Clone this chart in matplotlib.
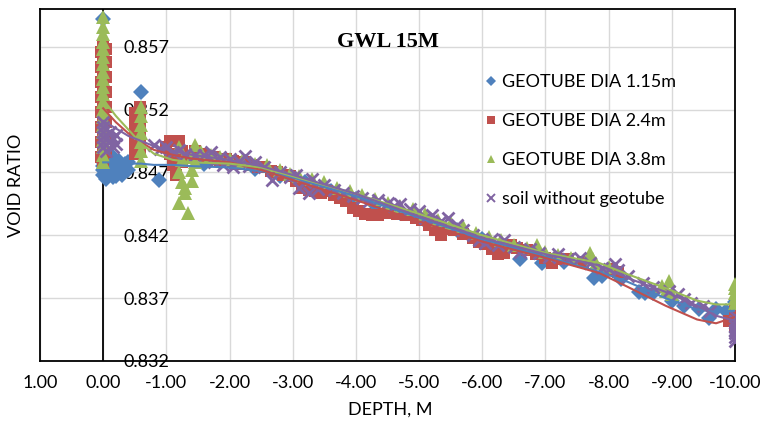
import matplotlib
matplotlib.use("Agg")
import matplotlib.pyplot as plt
from matplotlib.lines import Line2D

plt.rcParams['font.family'] = ['Lato', 'DejaVu Sans']

# ---------------- data ----------------
blue_x = [0.0, 0.0, 0.0, 0.0, 0.0, -0.05, -0.05, -0.1, -0.1, -0.1, -0.15, -0.15, -0.2, -0.2, -0.2, -0.25, -0.25,
          -0.3, -0.3, -0.35, -0.35, -0.4, -0.4, -0.05, -0.15,
          0.0, -0.6, -0.88,
          -1.2, -1.6, -2.0, -2.4, -2.8, -3.2, -3.6, -4.0, -4.3, -4.7, -5.1, -5.3, -5.6, -6.0, -6.3, -6.6,
          -6.95, -7.3, -7.77, -7.9, -8.2, -8.48, -8.58, -8.7, -9.0, -9.2, -9.43, -9.59, -9.7, -9.85,
          -10.0, -10.0, -10.0]
blue_y = [0.8478, 0.8472, 0.8468, 0.8483, 0.8475, 0.8475, 0.8469, 0.8470, 0.8480, 0.8474, 0.8466, 0.8478, 0.8476, 0.8471, 0.8467, 0.8479, 0.8473,
          0.8474, 0.8468, 0.8477, 0.8471, 0.8472, 0.8478, 0.8465, 0.8482,
          0.8592, 0.8534, 0.8464,
          0.8478, 0.8477, 0.8478, 0.8473, 0.8467, 0.8462, 0.8455, 0.8449, 0.8444, 0.8438, 0.8431, 0.8428, 0.8424, 0.8417, 0.8412, 0.8401,
          0.8398, 0.8399, 0.8386, 0.8388, 0.8385, 0.8375, 0.8374, 0.8374, 0.8368, 0.8364, 0.8361, 0.8354, 0.8361, 0.8360,
          0.8362, 0.8367, 0.8356]

red_x = [0.0, 0.04, -0.04, 0.0, 0.04, -0.04, 0.0, 0.04, -0.04, 0.0, 0.04, -0.04, 0.0, 0.04, -0.04, 0.0, 0.04, -0.04,
         0.0, 0.04, -0.04, 0.0, 0.04, -0.04, 0.0,
         -0.5, -0.58, -0.5, -0.58, -0.5, -0.58, -0.5, -0.58, -0.5, -0.58,
         -1.05, -1.2, -1.05, -1.25, -1.1, -1.25, -1.15, -1.0, -1.3,
         -1.45, -1.55, -1.65, -1.75, -1.85, -1.95, -2.05, -2.15, -2.25, -2.35, -2.45, -2.55, -2.65, -2.75, -2.85,
         -2.95, -3.05, -3.15, -3.25, -3.35, -3.45, -3.55, -3.65, -3.75, -3.85, -3.95, -4.05, -4.15, -4.25, -4.35,
         -4.5, -4.65, -4.8, -4.95, -5.05, -5.15, -5.25, -5.35, -5.45, -5.55, -5.7, -5.85, -5.95, -6.05, -6.15,
         -6.25, -6.35, -6.45, -6.55, -6.7, -6.85, -7.0, -7.1, -7.2, -7.35, -7.6, -8.05, -8.15,
         -9.9, -10.0, -10.0, -10.0, -10.0]
red_y = [0.8478, 0.8482, 0.8486, 0.8490, 0.8494, 0.8498, 0.8502, 0.8506, 0.8510, 0.8514, 0.8518, 0.8522, 0.8526, 0.8530, 0.8534,
         0.8538, 0.8542, 0.8546, 0.8550, 0.8554, 0.8558, 0.8562, 0.8566, 0.8568, 0.8570,
         0.8485, 0.8489, 0.8493, 0.8497, 0.8501, 0.8505, 0.8509, 0.8513, 0.8517, 0.8522,
         0.8495, 0.8495, 0.8485, 0.8487, 0.8476, 0.8478, 0.8468, 0.8490, 0.8482,
         0.8487, 0.8485, 0.8483, 0.8482, 0.8480, 0.8481, 0.8479, 0.8477, 0.8478, 0.8476, 0.8474, 0.8474, 0.8471, 0.8470, 0.8468,
         0.8467, 0.8463, 0.8458, 0.8456, 0.8455, 0.8454, 0.8455, 0.8452, 0.8450, 0.8447, 0.8442, 0.8439, 0.8437, 0.8436, 0.8436,
         0.8438, 0.8437, 0.8436, 0.8434, 0.8432, 0.8428, 0.8424, 0.8420, 0.8425, 0.8424, 0.8421, 0.8418, 0.8415, 0.8413, 0.8409,
         0.8405, 0.8406, 0.8412, 0.8410, 0.8408, 0.8405, 0.8402, 0.8398, 0.8401, 0.8401, 0.8399, 0.8393, 0.8391,
         0.8352, 0.8356, 0.8360, 0.8348, 0.8352]

green_x = [0.0, 0.0, 0.0, 0.0, 0.0, 0.0, 0.0, 0.0, 0.0, 0.0, 0.0, 0.0, 0.0, 0.0, 0.0, 0.0, 0.0, 0.0, 0.0, 0.0,
           -0.6, -0.6, -0.6, -0.6, -0.6, -0.6, -0.6,
           -1.2, -1.45, -1.25, -1.4, -1.2, -1.4, -1.25, -1.4, -1.3, -1.2, -1.35, -1.3, -1.45,
           -1.55, -1.7, -1.85, -2.0, -2.2, -2.4, -2.6, -2.8, -2.95, -3.1, -3.3, -3.5, -3.7, -3.9, -4.1, -4.3,
           -4.5, -4.7, -4.9, -5.1, -5.3, -5.5, -5.7, -5.9, -6.1, -6.3, -6.5, -6.7, -6.87, -7.0, -7.2, -7.4,
           -7.7, -7.75, -7.8, -8.0, -8.85, -8.9, -8.95, -9.0,
           -10.0, -10.0, -10.0, -10.0, -10.0]
green_y = [0.8478, 0.8484, 0.8490, 0.8496, 0.8502, 0.8508, 0.8514, 0.8520, 0.8526, 0.8532, 0.8538, 0.8544, 0.8550, 0.8556,
           0.8562, 0.8568, 0.8574, 0.8580, 0.8586, 0.8594,
           0.8522, 0.8515, 0.8508, 0.8501, 0.8494, 0.8487, 0.8479,
           0.8490, 0.8492, 0.8480, 0.8482, 0.8470, 0.8472, 0.8462, 0.8463, 0.8454, 0.8446, 0.8438, 0.8458, 0.8478,
           0.8486, 0.8484, 0.8482, 0.8481, 0.8479, 0.8477, 0.8476, 0.8472, 0.8469, 0.8467, 0.8465, 0.8462, 0.8458, 0.8455, 0.8452, 0.8449,
           0.8446, 0.8443, 0.8441, 0.8437, 0.8432, 0.8430, 0.8427, 0.8422, 0.8419, 0.8416, 0.8412, 0.8410, 0.8412, 0.8407, 0.8404, 0.8402,
           0.8406, 0.8401, 0.8398, 0.8395, 0.8380, 0.8376, 0.8384, 0.8373,
           0.8366, 0.8370, 0.8374, 0.8378, 0.8381]

purple_x = [0.0, 0.0, 0.0, 0.0, 0.0, 0.0, -0.05, -0.1, -0.1, -0.15, -0.15, -0.2, -0.2,
            -0.8, -0.9, -1.0, -1.1, -1.2, -1.3, -1.45, -1.6, -1.7, -1.75, -1.85, -1.9, -2.0, -2.05, -2.15, -2.25,
            -2.3, -2.4, -2.55, -2.67, -2.8, -2.95, -3.05, -3.1, -3.2, -3.25, -3.3, -3.4, -3.5, -3.65, -3.8, -3.95,
            -4.1, -4.2, -4.35, -4.5, -4.6, -4.7, -4.85, -5.0, -5.1, -5.2, -5.35, -5.45, -5.6, -5.7, -5.85, -5.95,
            -6.05, -6.15, -6.25, -6.35, -6.5, -6.6, -6.75, -6.9, -7.05, -7.2, -7.35, -7.55, -7.7, -7.9, -8.0, -8.1,
            -8.15, -8.3, -8.55, -8.7, -8.95, -9.1, -9.2, -9.3, -9.5, -9.6,
            -10.0, -10.0, -10.0, -10.0, -10.0, -10.0, -10.0]
purple_y = [0.8510, 0.8506, 0.8502, 0.8498, 0.8494, 0.8490, 0.8487, 0.8502, 0.8495, 0.8497, 0.8490, 0.8493, 0.8500,
            0.8492, 0.8489, 0.8490, 0.8486, 0.8488, 0.8485, 0.8484, 0.8484, 0.8486, 0.8478, 0.8482, 0.8476, 0.8481, 0.8474, 0.8479, 0.8483,
            0.8475, 0.8478, 0.8474, 0.8464, 0.8470, 0.8466, 0.8468, 0.8458, 0.8462, 0.8454, 0.8465, 0.8457, 0.8460, 0.8456, 0.8454, 0.8451,
            0.8450, 0.8447, 0.8448, 0.8446, 0.8443, 0.8445, 0.8441, 0.8439, 0.8434, 0.8436, 0.8431, 0.8434, 0.8428, 0.8424, 0.8420, 0.8416,
            0.8414, 0.8417, 0.8412, 0.8416, 0.8411, 0.8407, 0.8409, 0.8406, 0.8403, 0.8405, 0.8401, 0.8402, 0.8398, 0.8394, 0.8393, 0.8397,
            0.8392, 0.8388, 0.8382, 0.8379, 0.8376, 0.8373, 0.8369, 0.8366, 0.8364, 0.8360,
            0.8356, 0.8352, 0.8348, 0.8345, 0.8342, 0.8339, 0.8336]

# trendlines
trend_x = [0.0, -0.2, -0.4, -0.6, -0.8, -1.1, -1.4, -2.0, -2.5, -3.0, -4.0, -5.0, -6.0, -7.0, -7.85,
           -8.3, -8.9, -9.4, -9.7, -10.0]
green_trend = [0.8528, 0.8515, 0.8504, 0.8493, 0.8485, 0.8480, 0.8478, 0.8477, 0.8474, 0.8467, 0.8453, 0.8437,
               0.8420, 0.8406, 0.8398, 0.8389, 0.8378, 0.8368, 0.8365, 0.8365]
red_trend = [0.8521, 0.8510, 0.8501, 0.8494, 0.8488, 0.8484, 0.8481, 0.8478, 0.8472, 0.8464, 0.8448, 0.8431,
             0.8415, 0.8402, 0.8390, 0.8379, 0.8364, 0.8353, 0.8350, 0.8355]
purple_trend = [0.8511, 0.8505, 0.8499, 0.8495, 0.8491, 0.8487, 0.8484, 0.8480, 0.8475, 0.8468, 0.8453, 0.8435,
                0.8418, 0.8405, 0.8396, 0.8386, 0.8375, 0.8364, 0.8356, 0.8352]
blue_trend = [0.8478, 0.8478, 0.8477, 0.8477, 0.8476, 0.8476, 0.8475, 0.8474, 0.8471, 0.8466, 0.8451, 0.8434,
              0.8417, 0.8403, 0.8391, 0.8383, 0.8370, 0.8361, 0.8359, 0.8360]

labels = ["GEOTUBE DIA 1.15m", "GEOTUBE DIA 2.4m", "GEOTUBE DIA 3.8m", "soil without geotube"]
colors = ["#4F81BD", "#C0504D", "#9BBB59", "#8064A2"]
markers = ["D", "s", "^", "x"]
msizes = [8.5, 9, 10, 8]

x_ticks = [1.0, 0.0, -1.0, -2.0, -3.0, -4.0, -5.0, -6.0, -7.0, -8.0, -9.0, -10.0]
y_ticks = [0.832, 0.837, 0.842, 0.847, 0.852, 0.857]
title = "GWL 15M"
xlabel = "DEPTH, M"
ylabel = "VOID RATIO"

# ---------------- figure ----------------
fig = plt.figure(figsize=(7.63, 4.26), dpi=100)
ax = fig.add_axes([40 / 763, 1 - 361 / 426, 695 / 763, 352 / 426])

ax.set_xlim(1.0, -10.0)
ax.set_ylim(0.832, 0.86)
ax.set_xticks(x_ticks)
ax.set_xticklabels([f"{v:.2f}" for v in x_ticks])
ax.set_yticks(y_ticks)
ax.set_yticklabels([f"{v:.3f}" for v in y_ticks])
ax.grid(True, color="#D9D9D9", linewidth=1.0, zorder=0)
ax.set_axisbelow(True)
for s in ax.spines.values():
    s.set_color("black")
    s.set_linewidth(1.3)
ax.tick_params(axis='both', length=0, labelsize=13, colors="black")
ax.tick_params(axis='x', pad=10)
ax.tick_params(axis='y', pad=-93)
ax.axvline(0, color="black", linewidth=1.3, zorder=1.5)

series = [(blue_x, blue_y), (red_x, red_y), (green_x, green_y), (purple_x, purple_y)]
for (xs, ys), c, m, ms in zip(series, colors, markers, msizes):
    if m == "x":
        ax.plot(xs, ys, linestyle="none", marker=m, color=c, markersize=ms, markeredgewidth=2.0, zorder=3)
    else:
        ax.plot(xs, ys, linestyle="none", marker=m, color=c, markersize=ms, markeredgewidth=0, zorder=3)

for tr, c in zip([blue_trend, red_trend, green_trend, purple_trend], colors):
    ax.plot(trend_x, tr, color=c, linewidth=1.5, zorder=4)

handles = []
for c, m, lab in zip(colors, markers, labels):
    if m == "x":
        handles.append(Line2D([], [], linestyle="none", marker=m, color=c, markersize=6, markeredgewidth=1.4, label=lab))
    else:
        handles.append(Line2D([], [], linestyle="none", marker=m, color=c, markersize=6 if m != "D" else 5,
                              markeredgewidth=0, label=lab))
ax.legend(handles=handles, loc="upper left", bbox_to_anchor=(0.626, 0.835), frameon=False,
          fontsize=13, labelspacing=1.27, handletextpad=0.1, handlelength=1.0, borderaxespad=0)

ax.text(0.5, 0.906, title, transform=ax.transAxes, ha="center", va="center",
        fontfamily="Liberation Serif", fontweight="bold", fontsize=16)
fig.text(390 / 763, 1 - 410 / 426, xlabel, ha="center", va="center", fontsize=13)
fig.text(16 / 763, 1 - 185 / 426, ylabel, ha="center", va="center", rotation=90, fontsize=13)

fig.savefig("out.png", dpi=100)
